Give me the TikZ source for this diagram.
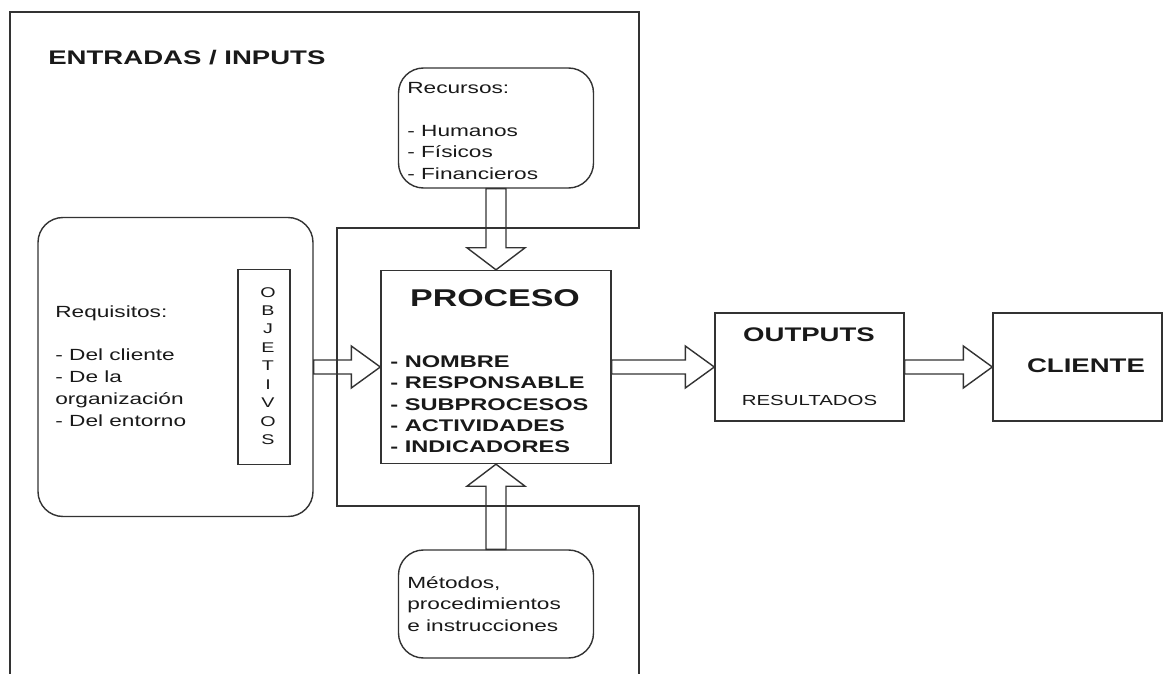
\documentclass[tikz,border=0pt]{standalone}
\usepackage{fontspec}
\setmainfont{Liberation Sans}[FakeStretch=1.4]
\usetikzlibrary{calc}
\tikzset{
  boxsize/.style 2 args={minimum width=#1*0.2mm, minimum height=#2*0.2mm, inner sep=0pt},
  plainbox/.style={draw=black!80, line width=0.8pt},
  roundbox/.style={plainbox, rounded corners=5mm},
  outline/.style={draw=black!80, line width=0.8pt},
  blockarrow/.style={draw=black!80, line width=0.8pt, line join=miter},
  txt/.style={inner sep=0pt, align=left, text=black!90, font=\fontsize{9.2}{12.2}\selectfont},
  smalltxt/.style={inner sep=0pt, text=black!90, font=\fontsize{8.3}{10}\selectfont},
  lettertxt/.style={inner sep=0pt, align=center, text=black!90, font=\fontsize{8}{10.5}\selectfont},
  itemtxt/.style={inner sep=0pt, align=left, text=black!90, font=\bfseries\fontsize{9.6}{12.1}\selectfont},
  headtxt/.style={inner sep=0pt, text=black!90, font=\bfseries\fontsize{11.2}{13}\selectfont},
  titletxt/.style={inner sep=0pt, text=black!90, font=\bfseries\fontsize{13.8}{16}\selectfont},
}
% hollow block arrow: from, to, shaft half width, head half width, head length
\newcommand{\blockarrow}[5]{%
  \coordinate (headbase) at ($(#2)!#5!(#1)$);
  \draw[blockarrow] ($(#1)!#3!90:(#2)$) -- ($(headbase)!#3!90:(#2)$)
    -- ($(headbase)!#4!90:(#2)$) -- (#2) -- ($(headbase)!#4!-90:(#2)$)
    -- ($(headbase)!#3!-90:(#2)$) -- ($(#1)!#3!-90:(#2)$) -- cycle;}

\begin{document}
\begin{tikzpicture}[x=0.2mm, y=-0.2mm]
  \useasboundingbox (0,0) rectangle (1168,674);
  % frame of the inputs
  \draw[outline] (10,674) -- (10,12) -- (639,12) -- (639,228) -- (337,228)
    -- (337,506) -- (639,506) -- (639,674);
  \node[headtxt, anchor=base west] (inputs) at (48,65) {ENTRADAS / INPUTS};

  % resources
  \node[roundbox, boxsize={195}{120}] (recbox) at (496,128) {};
  \node[txt, anchor=north west] (rectxt) at (407,82)
    {Recursos:\\[12.2pt]- Humanos\\- Físicos\\- Financieros};

  % requirements and objectives
  \node[roundbox, boxsize={275}{299}] (reqbox) at (175.5,367) {};
  \node[txt, anchor=north west, font=\fontsize{9.2}{12.5}\selectfont] (reqtxt) at (55,305)
    {Requisitos:\\[12.5pt]- Del cliente\\- De la\\organización\\- Del entorno};
  \node[plainbox, boxsize={52}{195}] (objbox) at (264,367) {};
  \node[lettertxt] (objtxt) at (268,366) {O\\B\\J\\E\\T\\I\\V\\O\\S};

  % process
  \node[plainbox, boxsize={230}{193}] (procbox) at (496,367) {};
  \node[titletxt, anchor=base] (proctitle) at (495,307) {PROCESO};
  \node[itemtxt, anchor=north west] (procitems) at (390,355.5)
    {- NOMBRE\\- RESPONSABLE\\- SUBPROCESOS\\- ACTIVIDADES\\- INDICADORES};

  % methods
  \node[roundbox, boxsize={195}{108}] (metbox) at (496,604) {};
  \node[txt, anchor=north west] (mettxt) at (407,576)
    {Métodos,\\procedimientos\\e instrucciones};

  % outputs and client
  \node[plainbox, boxsize={189}{108}] (outbox) at (809.5,367) {};
  \node[headtxt, anchor=base] (outtitle) at (809,342) {OUTPUTS};
  \node[smalltxt, anchor=base] (outtxt) at (809.5,405) {RESULTADOS};
  \node[plainbox, boxsize={169}{108}] (clibox) at (1077.5,367) {};
  \node[headtxt, anchor=base] (clitxt) at (1086,373) {CLIENTE};

  % block arrows
  \blockarrow{reqbox.east}{procbox.west}{1.4mm}{4.2mm}{5.8mm}
  \blockarrow{procbox.east}{outbox.west}{1.4mm}{4.2mm}{5.8mm}
  \blockarrow{outbox.east}{clibox.west}{1.4mm}{4.2mm}{5.8mm}
  \blockarrow{recbox.south}{procbox.north}{2mm}{5.8mm}{4.4mm}
  \blockarrow{metbox.north}{procbox.south}{2mm}{5.8mm}{4.4mm}
\end{tikzpicture}
\end{document}
